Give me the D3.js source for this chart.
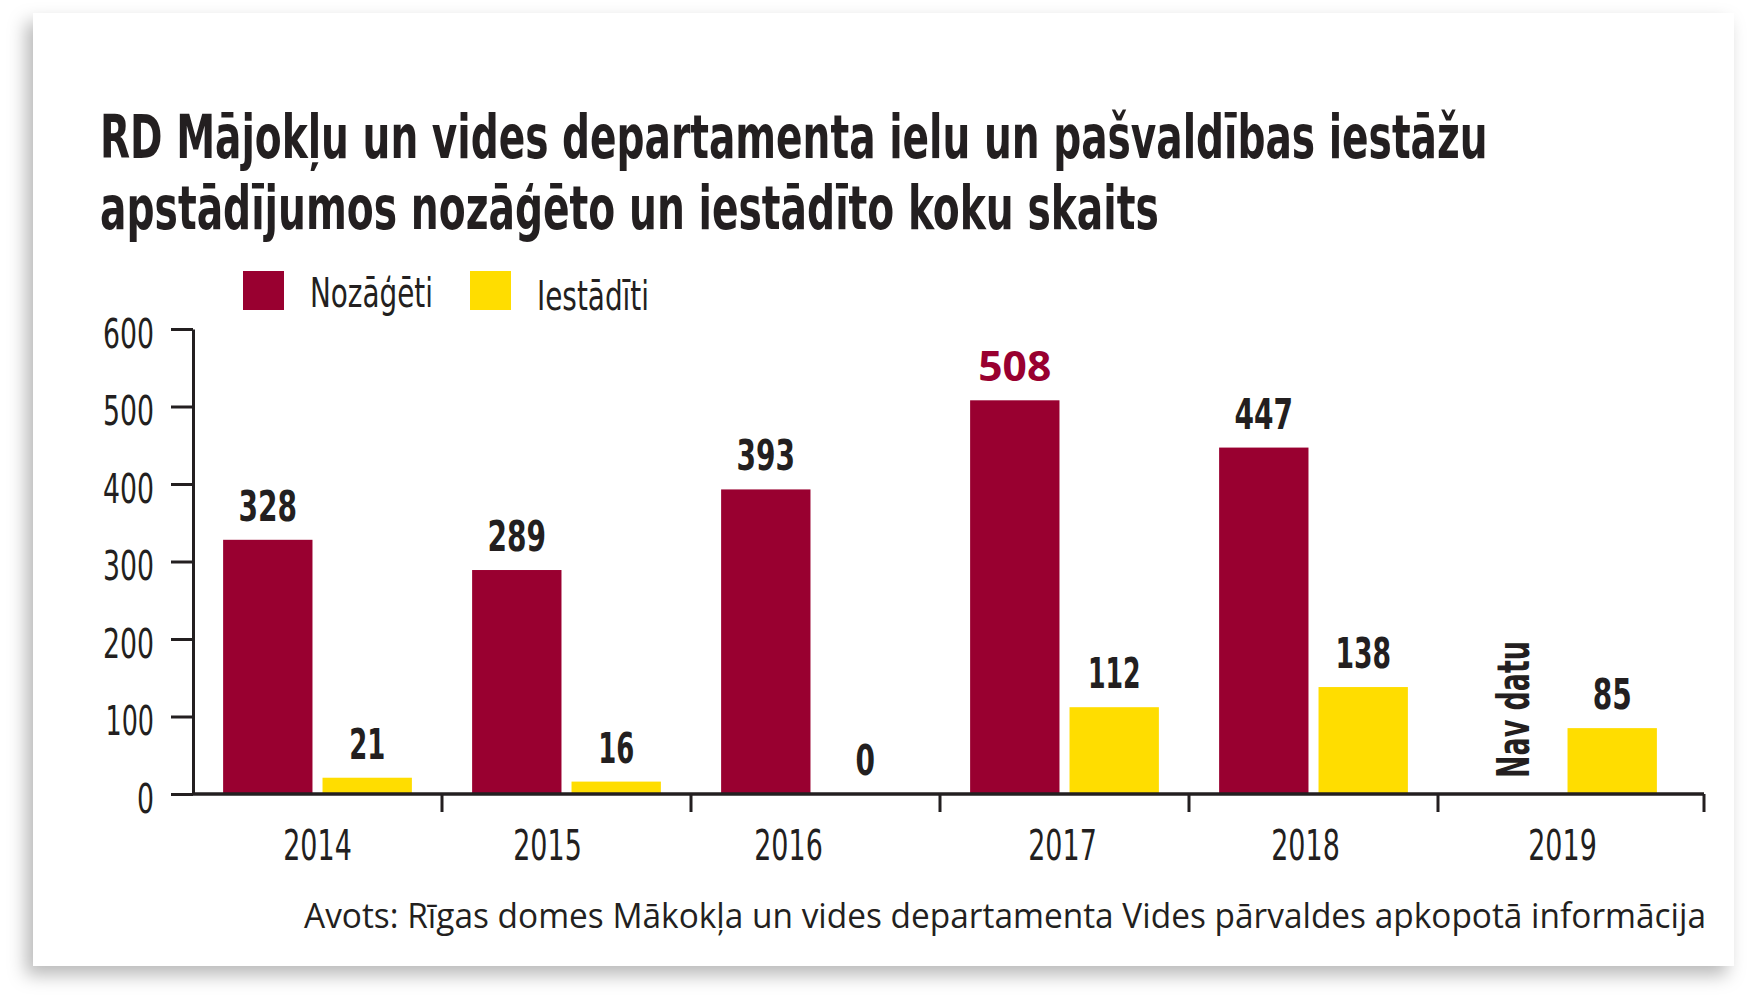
<!DOCTYPE html>
<html>
<head>
<meta charset="utf-8">
<script src="https://cdn.jsdelivr.net/npm/d3@7"></script>
<style>
  body { margin: 0; background: #fff; }
  text { fill: #231f20; }
</style>
</head>
<body>
<div id="chart"></div>
<script>
// data
var years = ["2014", "2015", "2016", "2017", "2018", "2019"];
var keys = ["Nozāģēti", "Iestādīti"];
var felled = [328, 289, 393, 508, 447, null];
var planted = [21, 16, 0, 112, 138, 85];
var yTicks = [0, 100, 200, 300, 400, 500, 600];
var titleLines = ["RD Mājokļu un vides departamenta ielu un pašvaldības iestāžu",
                  "apstādījumos nozāģēto un iestādīto koku skaits"];
var sourceText = "Avots: Rīgas domes Mākokļa un vides departamenta Vides pārvaldes apkopotā informācija";

var colors = ["#990030", "#ffdd00"];
var narrow = "'Liberation Sans Narrow', 'DejaVu Sans Condensed', 'Arial Narrow', sans-serif";

// width of a condensed digit string, used to squeeze the fallback font
var digitLen = function (s, w) {
    var n = 0;
    String(s).split("").forEach(function (c) { n += (c == "1" ? 0.85 : 1); });
    return n * w;
};

var W = 1748, H = 1000;
var svg = d3.select("#chart").append("svg")
    .attr("width", W)
    .attr("height", H);

// card with drop shadow
var defs = svg.append("defs");
var f = defs.append("filter").attr("id", "shadow")
    .attr("x", "-10%").attr("y", "-10%").attr("width", "120%").attr("height", "125%");
f.append("feDropShadow")
    .attr("dx", -7).attr("dy", 9)
    .attr("stdDeviation", 9)
    .attr("flood-color", "#000")
    .attr("flood-opacity", 0.28);

svg.append("rect")
    .attr("x", 33).attr("y", 13)
    .attr("width", 1701).attr("height", 953)
    .attr("fill", "#fff")
    .attr("filter", "url(#shadow)");

// title, squeezed horizontally to the condensed width
var titleWidths = [1388, 1059];
svg.selectAll(".title")
    .data(titleLines)
    .enter()
    .append("text")
    .attr("class", "title")
    .style("font-family", narrow)
    .style("font-weight", "bold")
    .style("font-size", "60px")
    .text(function (d) { return d; })
    .attr("transform", function (d, i) {
        var k = titleWidths[i] / this.getComputedTextLength();
        return "translate(100," + (158 + i * 71) + ") scale(" + k + ",1)";
    });

// legend
var legendX = [243, 470];
var legend = svg.selectAll(".legend")
    .data(keys)
    .enter()
    .append("g")
    .attr("class", "legend")
    .attr("transform", function (d, i) { return "translate(" + legendX[i] + ",271)"; });
legend.append("rect")
    .attr("width", 41).attr("height", 39)
    .attr("fill", function (d, i) { return colors[i]; });
legend.append("text")
    .attr("x", 67)
    .attr("y", function (d, i) { return i == 0 ? 36 : 39; })
    .attr("textLength", function (d, i) { return i == 0 ? 123 : 112; })
    .attr("lengthAdjust", "spacingAndGlyphs")
    .style("font-family", narrow)
    .style("font-size", "41px")
    .text(function (d) { return d; });

// scales
var x0 = d3.scaleBand()
    .domain(years)
    .range([193, 193 + 249 * years.length]);

var x1 = d3.scaleBand()
    .domain(keys)
    .range([0, x0.bandwidth()])
    .paddingInner(0.101)
    .paddingOuter(0.303);

var y = d3.scaleLinear()
    .domain([0, 600])
    .range([794, 329]);

var axisEnd = 1704;

// bars
var groups = svg.selectAll(".year")
    .data(years)
    .enter()
    .append("g")
    .attr("class", "year")
    .attr("transform", function (d) { return "translate(" + x0(d) + ",0)"; });

var barData = function (d, i) {
    return [{ key: keys[0], value: felled[i], year: d },
            { key: keys[1], value: planted[i], year: d }];
};

groups.selectAll("rect")
    .data(barData)
    .enter()
    .filter(function (d) { return d.value != null; })
    .append("rect")
    .attr("x", function (d) { return x1(d.key); })
    .attr("y", function (d) { return y(d.value); })
    .attr("width", x1.bandwidth())
    .attr("height", function (d) { return y(0) - y(d.value); })
    .attr("fill", function (d) { return d.key == keys[0] ? colors[0] : colors[1]; });

// value labels (max value highlighted in red)
var maxFelled = d3.max(felled);
groups.selectAll(".val")
    .data(barData)
    .enter()
    .filter(function (d) { return d.value != null; })
    .append("text")
    .attr("class", "val")
    .attr("x", function (d) { return x1(d.key) + x1.bandwidth() / 2; })
    .attr("y", function (d) { return y(d.value) - 19; })
    .attr("text-anchor", "middle")
    .attr("textLength", function (d) { return d.value == maxFelled ? 73 : digitLen(d.value, 19.5); })
    .attr("lengthAdjust", "spacingAndGlyphs")
    .style("font-family", function (d) { return d.value == maxFelled ? "'Open Sans', sans-serif" : narrow; })
    .style("font-weight", "bold")
    .style("font-size", function (d) { return d.value == maxFelled ? "41px" : "43px"; })
    .style("fill", function (d) { return d.value == maxFelled ? colors[0] : "#231f20"; })
    .text(function (d) { return d.value; });

// "Nav datu" for missing value
groups.filter(function (d, i) { return felled[i] == null; })
    .append("text")
    .attr("transform", "translate(" + (x1(keys[0]) + x1.bandwidth() / 2 + 16) + "," + (y(0) - 16) + ") rotate(-90)")
    .style("font-family", narrow)
    .style("font-weight", "bold")
    .style("font-size", "45px")
    .attr("textLength", 137)
    .attr("lengthAdjust", "spacingAndGlyphs")
    .text("Nav datu");

// y axis
var yAxis = svg.append("g")
    .attr("transform", "translate(193,0)")
    .call(d3.axisLeft(y).tickValues(yTicks).tickSize(22).tickSizeOuter(0).tickPadding(17));
yAxis.select(".domain").attr("stroke", "#231f20").attr("stroke-width", 3);
yAxis.selectAll(".tick line").attr("stroke", "#231f20").attr("stroke-width", 3);
yAxis.selectAll(".tick text")
    .attr("dy", "0.45em")
    .attr("textLength", function (d) { return digitLen(d, 17); })
    .attr("lengthAdjust", "spacingAndGlyphs")
    .style("font-family", narrow)
    .style("font-size", "41px")
    .style("fill", "#231f20");

// x axis line with ticks at band edges
svg.append("line")
    .attr("x1", 193).attr("x2", axisEnd)
    .attr("y1", y(0)).attr("y2", y(0))
    .attr("stroke", "#231f20").attr("stroke-width", 3.5);

var edges = years.slice(1).map(function (d) { return x0(d); }).concat([axisEnd]);
svg.selectAll(".xtick")
    .data(edges)
    .enter()
    .append("line")
    .attr("x1", function (d) { return d; }).attr("x2", function (d) { return d; })
    .attr("y1", y(0)).attr("y2", y(0) + 18)
    .attr("stroke", "#231f20").attr("stroke-width", 3);

// year labels are not exactly centred in the original
var labelShift = [0, -19, -27, -2, -8, 0];
svg.selectAll(".xlabel")
    .data(years)
    .enter()
    .append("text")
    .attr("x", function (d, i) { return x0(d) + x0.bandwidth() / 2 + labelShift[i]; })
    .attr("y", 860)
    .attr("text-anchor", "middle")
    .attr("textLength", function (d) { return digitLen(d, 17.8); })
    .attr("lengthAdjust", "spacingAndGlyphs")
    .style("font-family", narrow)
    .style("font-size", "42px")
    .text(function (d) { return d; });

// source
svg.append("text")
    .attr("x", 1706)
    .attr("y", 928)
    .attr("text-anchor", "end")
    .attr("textLength", 1402)
    .attr("lengthAdjust", "spacingAndGlyphs")
    .style("font-family", "'Open Sans', sans-serif")
    .style("font-size", "34px")
    .text(sourceText);
</script>
</body>
</html>
